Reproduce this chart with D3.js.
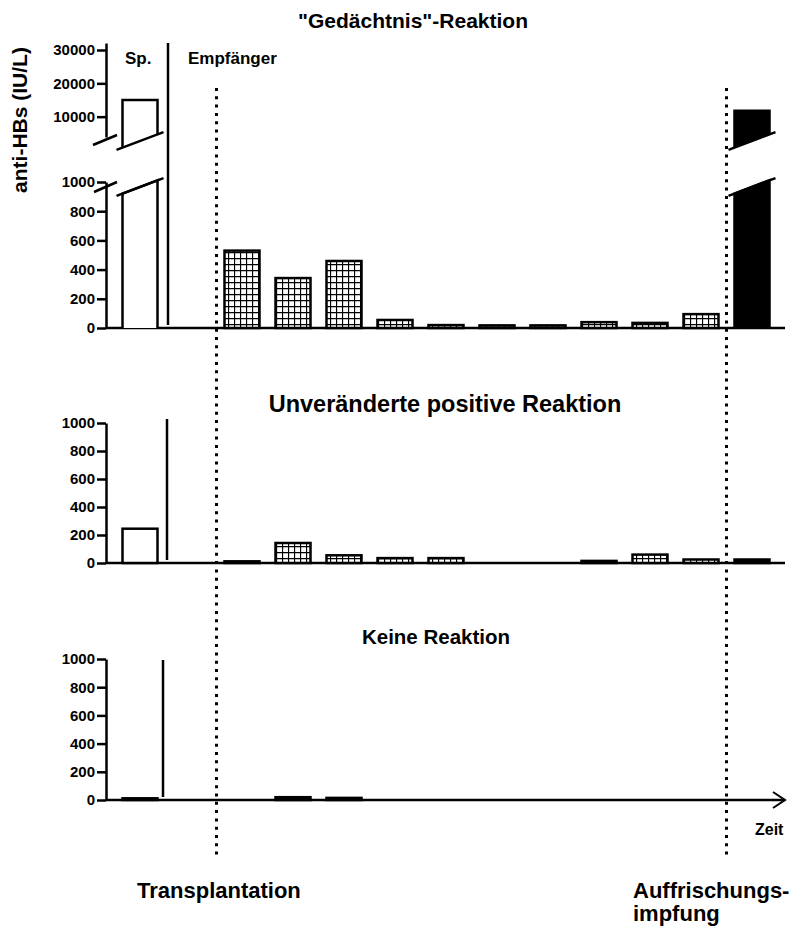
<!DOCTYPE html>
<html>
<head>
<meta charset="UTF-8">
<title>anti-HBs Reaktion</title>
<script src="https://d3js.org/d3.v7.min.js"></script>
<style>
  body { margin: 0; background: #fff; }
  svg { display: block; font-family: "Liberation Sans", Arial, sans-serif; font-weight: bold; }
</style>
</head>
<body>
<svg id="chart" width="790" height="933"></svg>
<script>
// slot 0 = Spender, slots 2..11 = Empfänger, slot 12 = nach Auffrischungsimpfung
var slots = [0, 2, 3, 4, 5, 6, 7, 8, 9, 10, 11, 12];
var memoryVals    = [15000, 530, 342, 459, 55, 20, 18, 18, 40, 35, 95, 11800];
var unchangedVals = [245, 12, 143, 55, 35, 35, null, null, 15, 60, 25, 25];
var noneVals      = [12, null, 20, 15, null, null, null, null, null, null, null, null];
var lowTicks  = [0, 200, 400, 600, 800, 1000];
var highTicks = [10000, 20000, 30000];
var titles = ['"Gedächtnis"-Reaktion', "Unveränderte positive Reaktion", "Keine Reaktion"];

var svg = d3.select("#chart");
var axisX = 106, axisEnd = 785, barW = 35;
var x = d3.scaleLinear().domain([0, 12]).range([140, 752]);

// hatch
var defs = svg.append("defs");
var pat = defs.append("pattern").attr("id", "grid")
  .attr("patternUnits", "userSpaceOnUse").attr("width", 6).attr("height", 6);
pat.append("rect").attr("width", 6).attr("height", 6).attr("fill", "#fff");
pat.append("path").attr("d", "M0,0.5H6M0.5,0V6").attr("stroke", "#000").attr("stroke-width", 1.3);

function fillFor(slot) {
  if (slot === 0) return "#fff";
  if (slot === 12) return "#000";
  return "url(#grid)";
}

var panels = [
  { vals: memoryVals,    base: 328, top: 182, tx: 413, ty: 28,  fs: 21,   sepX: 168, sepTop: 43 },
  { vals: unchangedVals, base: 563, top: 423, tx: 445, ty: 412, fs: 23.5, sepX: 167, sepTop: 419 },
  { vals: noneVals,      base: 800, top: 659, tx: 436, ty: 644, fs: 20.5, sepX: 163, sepTop: 660 }
];

var breakLow = 187, breakHigh = 141, slope = 0.38;
var yHighBase = d3.scaleLinear().domain([0, 30000]).range([150, 50]);
var yHigh = d3.scaleLinear().domain([3900, 32100]).range([yHighBase(3900), yHighBase(32100)]);

panels.forEach(function (p, pi) {
  var y = d3.scaleLinear().domain([0, 1000]).range([p.base, p.top]);
  var g = svg.append("g");

  // title
  svg.append("text").attr("x", p.tx).attr("y", p.ty)
    .attr("text-anchor", "middle").attr("font-size", p.fs).text(titles[pi]);

  // baseline
  g.append("line").attr("x1", axisX).attr("x2", axisEnd)
    .attr("y1", p.base).attr("y2", p.base).attr("stroke", "#000").attr("stroke-width", 2.5);

  // bars
  slots.forEach(function (s, i) {
    var v = p.vals[i];
    if (v == null) return;
    var x0 = x(s) - barW / 2, x1 = x(s) + barW / 2;
    if (v <= 1000) {
      g.append("rect").attr("x", x0).attr("y", y(v)).attr("width", barW)
        .attr("height", p.base - y(v)).attr("fill", fillFor(s))
        .attr("stroke", "#000").attr("stroke-width", 2.5);
    } else {
      var d = barW / 2 * slope;
      var lowPts = [[x0, p.base], [x0, breakLow + d], [x1, breakLow - d], [x1, p.base]];
      var highPts = [[x0, breakHigh + d], [x0, yHighBase(v)], [x1, yHighBase(v)], [x1, breakHigh - d]];
      [lowPts, highPts].forEach(function (pts) {
        g.append("path").attr("d", d3.line()(pts)).attr("fill", fillFor(s))
          .attr("stroke", "#000").attr("stroke-width", 2.5);
      });
      [breakLow, breakHigh].forEach(function (c) {
        g.append("line")
          .attr("x1", x0 - 6).attr("y1", c + (barW / 2 + 6) * slope)
          .attr("x2", x1 + 6).attr("y2", c - (barW / 2 + 6) * slope)
          .attr("stroke", "#000").attr("stroke-width", 2.5);
      });
    }
  });

  // y axis
  var ax = g.append("g").attr("transform", "translate(" + axisX + ",0)")
    .call(d3.axisLeft(y).tickValues(lowTicks).tickSize(9).tickSizeOuter(0).tickFormat(d3.format("d")));
  var axes = [ax];
  if (pi === 0) {
    var axH = g.append("g").attr("transform", "translate(" + axisX + ",0)")
      .call(d3.axisLeft(yHigh).tickValues(highTicks).tickSize(9).tickSizeOuter(0).tickFormat(d3.format("d")));
    axes.push(axH);
    [[93, 145, 117, 135], [94, 192, 117, 182]].forEach(function (l) {
      g.append("line").attr("x1", l[0]).attr("y1", l[1]).attr("x2", l[2]).attr("y2", l[3])
        .attr("stroke", "#000").attr("stroke-width", 2.5);
    });
  }
  axes.forEach(function (a) {
    a.select(".domain").attr("stroke-width", 2.5);
    a.selectAll(".tick line").attr("stroke-width", 2.5);
    a.selectAll(".tick text").attr("font-size", 15).attr("font-weight", "bold")
      .attr("font-family", "Liberation Sans, Arial, sans-serif").attr("x", -11);
  });

  // donor / recipient separator
  g.append("line").attr("x1", p.sepX).attr("x2", p.sepX)
    .attr("y1", p.sepTop).attr("y2", p.base - 3).attr("stroke", "#000").attr("stroke-width", 2.5);
});

// arrow on time axis
svg.append("path").attr("d", "M773,792L785,800L773,808").attr("fill", "none")
  .attr("stroke", "#000").attr("stroke-width", 2);

// dotted event lines
[x(1.5), x(11.5)].forEach(function (xx) {
  svg.append("line").attr("x1", xx).attr("x2", xx).attr("y1", 88).attr("y2", 857)
    .attr("stroke", "#000").attr("stroke-width", 3).attr("stroke-dasharray", "3,5.3");
});

// labels
svg.append("text").attr("x", 125).attr("y", 64).attr("font-size", 17).text("Sp.");
svg.append("text").attr("x", 188).attr("y", 64).attr("font-size", 17).text("Empfänger");
svg.append("text").attr("x", 755).attr("y", 835).attr("font-size", 16).text("Zeit");
svg.append("text").attr("x", 137).attr("y", 898).attr("font-size", 22).text("Transplantation");
svg.append("text").attr("x", 633).attr("y", 898).attr("font-size", 22).text("Auffrischungs-");
svg.append("text").attr("x", 633).attr("y", 921).attr("font-size", 22).text("impfung");
svg.append("text").attr("transform", "translate(27,120) rotate(-90)")
  .attr("text-anchor", "middle").attr("font-size", 21).text("anti-HBs (IU/L)");
</script>
</body>
</html>
